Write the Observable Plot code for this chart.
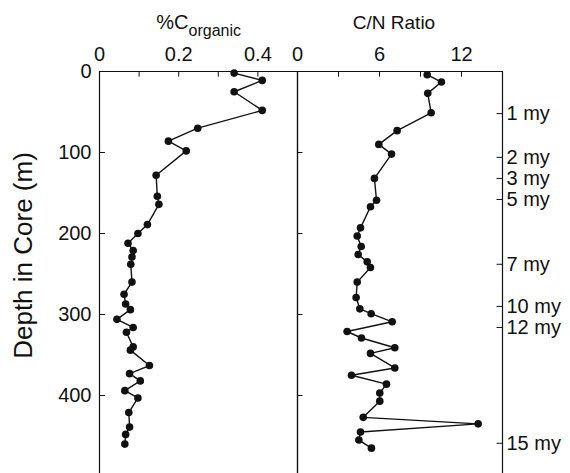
<!DOCTYPE html>
<html>
<head>
<meta charset="utf-8">
<script src="https://cdn.jsdelivr.net/npm/d3@7"></script>
<script src="https://cdn.jsdelivr.net/npm/@observablehq/plot@0.6"></script>
<style>
  body { margin: 0; background: white; }
  #wrap { position: relative; width: 570px; height: 473px; overflow: hidden; }
  #wrap svg { position: absolute; left: 0; top: 0; }
</style>
</head>
<body>
<div id="wrap"></div>
<script>
// %C organic vs depth
const cDepth = [2,11,25,48,70,86,98,128,154,164,189,200,212,221,229,238,260,275,287,294,306,316,322,340,344,363,373,382,394,403,421,439,448,460];
const cOrg = [0.34,0.411,0.34,0.411,0.248,0.174,0.219,0.143,0.146,0.150,0.121,0.097,0.072,0.085,0.082,0.079,0.082,0.062,0.066,0.078,0.044,0.085,0.068,0.085,0.078,0.126,0.076,0.103,0.064,0.097,0.074,0.076,0.066,0.064];
// C/N ratio vs depth
const cnDepth = [4,13,27,51,73,90,102,132,159,167,193,203,216,226,235,242,260,279,293,299,309,321,329,341,348,366,375,386,397,407,427,435,445,455,465];
const cnRatio = [9.49,10.53,9.53,9.78,7.29,5.95,6.88,5.63,5.78,5.34,4.61,4.37,4.66,4.44,5.10,5.34,4.37,4.29,4.56,5.39,6.93,3.63,4.68,7.12,5.34,7.12,3.95,6.51,6.02,6.02,4.81,13.22,4.61,4.49,5.41];
// age markers
const ageLabels = ["1 my","2 my","3 my","5 my","7 my","10 my","12 my","15 my"];
const ageDepth = [52,106,132,158,238,290,316,459];
// ticks
const depthTicks = [0,100,200,300,400];
const cTickLabels = [0,0.2,0.4];
const cTickMarks = [0.1,0.2,0.3,0.4];
const cnTickLabels = [0,6,12];
const cnTickMarks = [3,6,9,12];

const font = "'Liberation Sans', Arial, Helvetica, sans-serif";
const ink = "#111";
const cData = cDepth.map((d,i)=>({depth:d, v:cOrg[i]}));
const cnData = cnDepth.map((d,i)=>({depth:d, v:cnRatio[i]}));
const ages = ageDepth.map((d,i)=>({depth:d, label:ageLabels[i]}));
const yDomain = [0, 496.3];

const left = Plot.plot({
  width: 300, height: 473,
  marginLeft: 99, marginRight: 3, marginTop: 71, marginBottom: 0,
  style: {background: "transparent", fontFamily: font, overflow: "visible"},
  x: {domain: [0, 0.5], axis: null},
  y: {domain: yDomain, reverse: true, axis: null},
  marks: [
    Plot.ruleX([0], {stroke: ink, strokeWidth: 1.2}),
    Plot.ruleX([0.5], {stroke: ink, strokeWidth: 1.2}),
    Plot.ruleY([0], {stroke: ink, strokeWidth: 1.2}),
    Plot.ruleX(cTickMarks, {y1: 0, y2: 7, stroke: ink}),
    Plot.ruleY(depthTicks.slice(1), {x1: 0, x2: 0.015, stroke: ink}),
    Plot.axisX(cTickLabels, {anchor: "top", tickSize: 0, tickPadding: 11, fontSize: 20, tickFormat: d => String(d), label: null, fill: ink}),
    Plot.axisY(depthTicks, {anchor: "left", tickSize: 0, tickPadding: 8, fontSize: 20, label: null, fill: ink}),
    Plot.text(["Depth in Core (m)"], {frameAnchor: "left", textAnchor: "middle", lineAnchor: "middle", dx: -76, dy: -17, rotate: -90, fontSize: 26, fill: ink}),
    Plot.text(["%C"], {frameAnchor: "top", textAnchor: "end", lineAnchor: "bottom", dx: -10, dy: -43, fontSize: 20, fill: ink}),
    Plot.text(["organic"], {frameAnchor: "top", textAnchor: "start", lineAnchor: "bottom", dx: -10, dy: -36, fontSize: 16, fill: ink}),
    Plot.line(cData, {x: "v", y: "depth", stroke: ink, strokeWidth: 1.4}),
    Plot.dot(cData, {x: "v", y: "depth", r: 3.8, fill: ink, stroke: "none"})
  ]
});

const right = Plot.plot({
  width: 570, height: 473,
  marginLeft: 297, marginRight: 68, marginTop: 71, marginBottom: 0,
  style: {background: "transparent", fontFamily: font, overflow: "visible"},
  x: {domain: [0, 15], axis: null},
  y: {domain: yDomain, reverse: true, axis: null},
  marks: [
    Plot.ruleX([0], {stroke: ink, strokeWidth: 1.2}),
    Plot.ruleX([15], {stroke: ink, strokeWidth: 1.2}),
    Plot.ruleY([0], {stroke: ink, strokeWidth: 1.2}),
    Plot.ruleX(cnTickMarks, {y1: 0, y2: 7, stroke: ink}),
    Plot.ruleY(depthTicks.slice(1), {x1: 0, x2: 0.4, stroke: ink}),
    Plot.ruleY(ages, {y: "depth", x1: 14.6, x2: 15, stroke: ink}),
    Plot.axisX(cnTickLabels, {anchor: "top", tickSize: 0, tickPadding: 11, fontSize: 20, label: null, fill: ink}),
    Plot.text(["C/N Ratio"], {frameAnchor: "top", textAnchor: "middle", lineAnchor: "bottom", dx: -6, dy: -43, fontSize: 19, fill: ink}),
    Plot.text(ages, {y: "depth", text: "label", frameAnchor: "right", textAnchor: "start", dx: 4, fontSize: 20, fill: ink}),
    Plot.line(cnData, {x: "v", y: "depth", stroke: ink, strokeWidth: 1.4}),
    Plot.dot(cnData, {x: "v", y: "depth", r: 3.8, fill: ink, stroke: "none"})
  ]
});

const wrap = document.getElementById("wrap");
wrap.appendChild(left);
wrap.appendChild(right);
</script>
</body>
</html>
